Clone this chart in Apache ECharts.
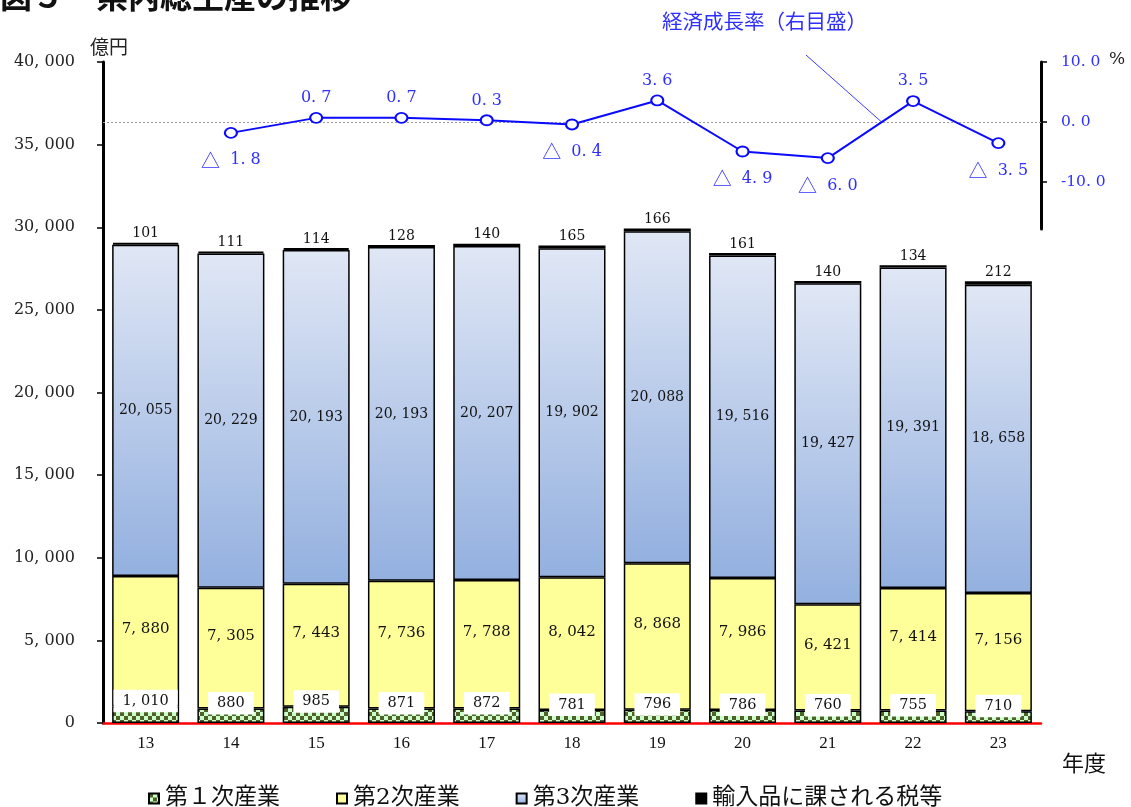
<!DOCTYPE html>
<html>
<head>
<meta charset="utf-8">
<title>県内総生産の推移</title>
<script src="https://cdn.jsdelivr.net/npm/echarts@6/dist/echarts.min.js"></script>
<style>
  html, body { margin: 0; padding: 0; background: #fff; }
  #chart { width: 1131px; height: 807px; }
</style>
</head>
<body>
<div id="chart"></div>
<script>
// 年度
const years = ['13', '14', '15', '16', '17', '18', '19', '20', '21', '22', '23'];
// 産業別 県内総生産（億円）
const primary   = [1010, 880, 985, 871, 872, 781, 796, 786, 760, 755, 710];
const secondary = [7880, 7305, 7443, 7736, 7788, 8042, 8868, 7986, 6421, 7414, 7156];
const tertiary  = [20055, 20229, 20193, 20193, 20207, 19902, 20088, 19516, 19427, 19391, 18658];
const importTax = [101, 111, 114, 128, 140, 165, 166, 161, 140, 134, 212];
// 経済成長率（％）、13年度は無し
const growth = [null, -1.8, 0.7, 0.7, 0.3, -0.4, 3.6, -4.9, -6.0, 3.5, -3.5];
// 右目盛の目盛値
const rateTicks = [10, 0, -10];

const serif = '"DejaVu Serif", "Noto Sans CJK JP", serif';
const gothic = '"Noto Sans CJK JP", sans-serif';
const blue = '#2f2fff';
const lineBlue = '#0a0aff';

const fmtAmount = v => Number(v).toLocaleString('en-US').replace(/,/g, ', ');
const fmtRate = v => (v < 0 ? '-' : '') + Math.abs(v).toFixed(1).replace('.', '. ');
// マイナスは「△」で表記
const fmtGrowth = v => {
  const num = Math.abs(v).toFixed(1).replace('.', '. ');
  return v < 0 ? '{t|△}  ' + num : num;
};

// 第１次産業の市松模様
function checkerPattern() {
  const c = document.createElement('canvas');
  c.width = 8; c.height = 8;
  const g = c.getContext('2d');
  g.fillStyle = '#ccffcc';
  g.fillRect(0, 0, 8, 8);
  g.fillStyle = '#4f6228';
  g.fillRect(0, 0, 4, 4);
  g.fillRect(4, 4, 4, 4);
  return c;
}

const chart = echarts.init(document.getElementById('chart'), null, { renderer: 'canvas' });

const barBase = {
  type: 'bar',
  stack: 'total',
  barWidth: 67,
  xAxisIndex: 0,
  yAxisIndex: 0
};
const border = { borderColor: '#000', borderWidth: 1.5 };

const option = {
  animation: false,
  backgroundColor: '#fff',
  grid: [
    { left: 103, right: 90, top: 62, bottom: 84 },
    { left: 103, right: 90, top: 62, height: 167 }
  ],
  xAxis: [
    {
      type: 'category',
      gridIndex: 0,
      data: years,
      axisLine: { lineStyle: { color: '#ff0000', width: 2.5 } },
      axisTick: { show: false },
      axisLabel: { margin: 12, color: '#111', fontFamily: '"Liberation Serif", serif', fontSize: 17 }
    },
    { type: 'category', gridIndex: 1, data: years, show: false }
  ],
  yAxis: [
    {
      type: 'value',
      gridIndex: 0,
      min: 0,
      max: 40000,
      interval: 5000,
      axisLine: { show: true, lineStyle: { color: '#000', width: 3 } },
      axisTick: { show: true, length: 6, lineStyle: { color: '#000', width: 1.5 } },
      splitLine: { show: false },
      axisLabel: { margin: 28, color: '#222', fontFamily: serif, fontSize: 16, formatter: fmtAmount }
    },
    {
      type: 'value',
      gridIndex: 1,
      position: 'right',
      min: -17.8,
      max: 10,
      axisLine: { show: true, lineStyle: { color: '#000', width: 3 } },
      axisTick: { show: true, length: 6, customValues: rateTicks, lineStyle: { color: '#000', width: 1.5 } },
      splitLine: { show: false },
      axisLabel: { margin: 20, color: blue, fontFamily: serif, fontSize: 15.5, customValues: rateTicks, formatter: fmtRate }
    }
  ],
  legend: {
    left: 143,
    top: 782,
    itemWidth: 10,
    itemHeight: 10,
    itemGap: 56,
    icon: 'rect',
    data: ['第１次産業', '第2次産業', '第3次産業', '輸入品に課される税等'],
    textStyle: { fontFamily: serif, fontSize: 23, color: '#111', padding: [0, 0, 0, 1] }
  },
  series: [
    Object.assign({}, barBase, {
      name: '第１次産業',
      data: primary,
      z: 3,
      itemStyle: Object.assign({ color: { image: checkerPattern(), repeat: 'repeat' } }, border),
      label: {
        show: true,
        position: 'top',
        distance: -6,
        formatter: p => fmtAmount(p.value),
        backgroundColor: '#fff',
        padding: [4, 9],
        color: '#111',
        fontFamily: serif,
        fontSize: 14.5
      }
    }),
    Object.assign({}, barBase, {
      name: '第2次産業',
      data: secondary,
      itemStyle: Object.assign({ color: '#ffff99' }, border),
      label: {
        show: true,
        position: 'inside',
        offset: [0, -12],
        formatter: p => fmtAmount(p.value),
        color: '#111',
        fontFamily: serif,
        fontSize: 15
      }
    }),
    Object.assign({}, barBase, {
      name: '第3次産業',
      data: tertiary,
      itemStyle: Object.assign({
        color: {
          type: 'linear', x: 0, y: 0, x2: 0, y2: 1,
          colorStops: [{ offset: 0, color: '#e0e7f5' }, { offset: 1, color: '#93b0df' }]
        }
      }, border),
      label: {
        show: true,
        position: 'inside',
        formatter: p => fmtAmount(p.value),
        color: '#111',
        fontFamily: serif,
        fontSize: 14
      }
    }),
    Object.assign({}, barBase, {
      name: '輸入品に課される税等',
      data: importTax,
      itemStyle: Object.assign({ color: '#000' }, border, { borderWidth: 2 }),
      label: {
        show: true,
        position: 'top',
        distance: 2,
        formatter: p => fmtAmount(p.value),
        color: '#111',
        fontFamily: serif,
        fontSize: 14
      }
    }),
    {
      name: '経済成長率',
      type: 'line',
      xAxisIndex: 1,
      yAxisIndex: 1,
      z: 6,
      data: growth.map(v => v == null ? '-' : {
        value: v,
        label: { position: v < 0 ? 'bottom' : 'top', distance: v < 0 ? 12 : 6 }
      }),
      symbol: 'emptyCircle',
      symbolSize: [12, 10],
      lineStyle: { color: lineBlue, width: 2 },
      itemStyle: { color: lineBlue, borderColor: lineBlue, borderWidth: 1.5 },
      label: {
        show: true,
        color: blue,
        fontFamily: serif,
        fontSize: 16,
        formatter: p => fmtGrowth(p.value),
        rich: { t: { fontFamily: gothic, fontSize: 19, color: blue } }
      },
      markLine: {
        silent: true,
        symbol: 'none',
        label: { show: false },
        lineStyle: { color: '#9a9a9a', type: [2, 2], width: 1 },
        data: [{ yAxis: 0 }]
      }
    }
  ],
  graphic: [
    {
      type: 'text', left: 0, top: -20,
      style: { text: '図５　県内総生産の推移', fontFamily: gothic, fontSize: 32, fontWeight: 'bold', fill: '#111' }
    },
    {
      type: 'text', left: 90, top: 37,
      style: { text: '億円', fontFamily: gothic, fontSize: 19, fill: '#222' }
    },
    {
      type: 'text', left: 1109, top: 51,
      style: { text: '%', fontFamily: serif, fontSize: 17, fill: '#222' }
    },
    {
      type: 'text', left: 1062, top: 752,
      style: { text: '年度', fontFamily: gothic, fontSize: 22, fill: '#111' }
    },
    {
      type: 'text', left: 662, top: 11,
      style: { text: '経済成長率（右目盛）', fontFamily: gothic, fontSize: 20.5, fill: blue }
    }
  ]
};

chart.setOption(option);

// 引出線：注記から 21→22年度の線分が 0% を横切る点へ
const i0 = years.indexOf('21');
const p0 = chart.convertToPixel({ seriesIndex: 4 }, [i0, growth[i0]]);
const p1 = chart.convertToPixel({ seriesIndex: 4 }, [i0 + 1, growth[i0 + 1]]);
const t = -growth[i0] / (growth[i0 + 1] - growth[i0]);
const cross = [p0[0] + (p1[0] - p0[0]) * t, p0[1] + (p1[1] - p0[1]) * t];
chart.setOption({
  graphic: option.graphic.concat([{
    type: 'line',
    silent: true,
    shape: { x1: 806, y1: 55, x2: cross[0], y2: cross[1] },
    style: { stroke: lineBlue, lineWidth: 0.8 }
  }])
});
</script>
</body>
</html>
